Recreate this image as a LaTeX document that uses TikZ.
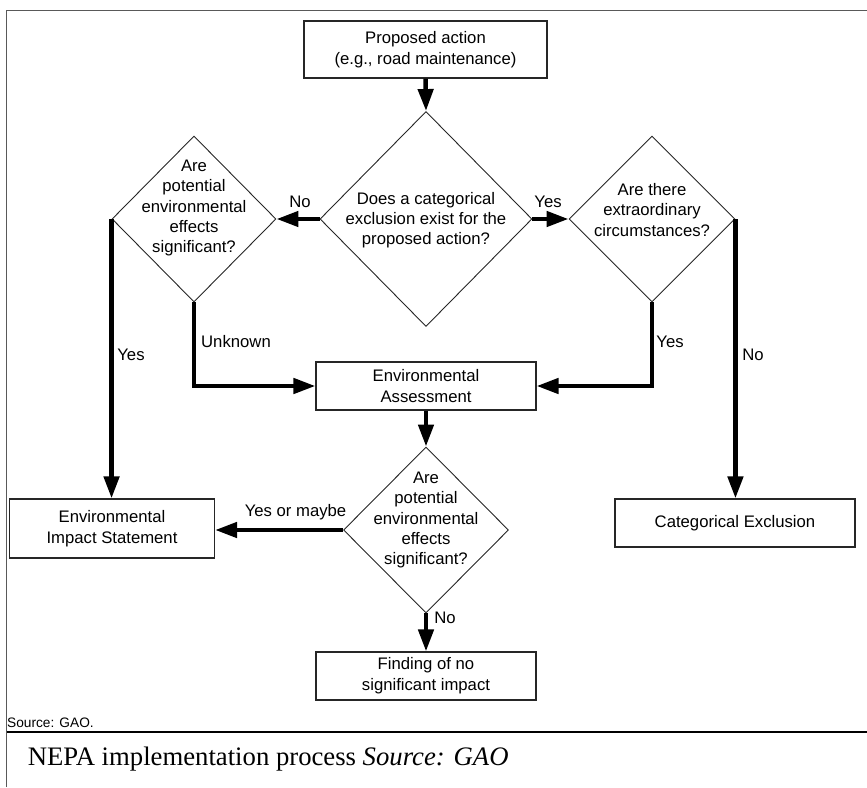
\documentclass[tikz,border=0pt]{standalone}
\usepackage{fontspec}
\setmainfont{Liberation Sans}
\newfontfamily\capfont{Liberation Serif}
\usetikzlibrary{arrows.meta,shapes.geometric}
\begin{document}
\begin{tikzpicture}[x=1pt,y=-1pt,
  box/.style={draw=black!85,line width=1.1pt,rectangle,inner sep=0pt,align=center,
    font=\fontsize{16.7}{21}\selectfont},
  dia/.style={draw=black!85,line width=0.9pt,diamond,inner sep=0pt,aspect=1},
  dtext/.style={align=center,inner sep=0pt,font=\fontsize{16.7}{20.3}\selectfont},
  lbl/.style={inner sep=0pt,font=\fontsize{16.7}{20}\selectfont},
  flow/.style={line width=4.5pt,-{Triangle[length=22pt,width=15pt]}},
  plain/.style={line width=4.5pt}]
\useasboundingbox (0,0) rectangle (867,787);
% frame
\draw[black!65,line width=1.5pt] (6.5,787) -- (6.5,10.7) -- (867,10.7);
\draw[black,line width=1.8pt] (6.5,731.7) -- (867,731.7);
\node[anchor=west,inner sep=0pt,font=\fontsize{13.7}{16}\selectfont] (src) at (7,723) {Source: GAO.};
\node[anchor=west,inner sep=0pt,font=\capfont\fontsize{26.7}{30}\selectfont] (cap) at (27.6,759) {NEPA implementation process \textit{Source: GAO}};
% boxes
\node[box,minimum width=243pt,minimum height=57pt] (pa) at (425.5,49.5) {Proposed action\\(e.g., road maintenance)};
\node[box,minimum width=220pt,minimum height=48pt] (ea) at (426,386) {Environmental\\Assessment};
\node[box,minimum width=205pt,minimum height=59pt] (eis) at (112,528.5) {Environmental\\Impact Statement};
\node[box,minimum width=240pt,minimum height=48pt] (ce) at (735,523) {Categorical Exclusion};
\node[box,minimum width=220pt,minimum height=48pt] (fonsi) at (426,676) {Finding of no\\significant impact};
% diamonds
\node[dia,minimum width=212pt,minimum height=215pt] (d1) at (426,219) {};
\node[dtext] (t1) at (426,220) {Does a categorical\\exclusion exist for the\\proposed action?};
\node[dia,minimum width=164pt,minimum height=166pt] (d2) at (194,219) {};
\node[dtext] (t2) at (194,208) {Are\\potential\\environmental\\effects\\significant?};
\node[dia,minimum width=166pt,minimum height=166pt] (d3) at (652,219) {};
\node[dtext] (t3) at (652,210) {Are there\\extraordinary\\circumstances?};
\node[dia,minimum width=165pt,minimum height=166pt] (d4) at (426,530) {};
\node[dtext] (t4) at (426,520) {Are\\potential\\environmental\\effects\\significant?};
% connectors
\coordinate (c1) at (194,386);
\coordinate (c2) at (652,386);
\draw[flow] (pa.south) -- (d1.north);
\draw[flow] (d1.west) -- (d2.east);
\draw[flow] (d1.east) -- (d3.west);
\draw[flow] (d2.west) -- (d2.west |- eis.north);
\draw[flow] (d2.south) -- (c1) -- (ea.west);
\draw[flow] (d3.south) -- (c2) -- (ea.east);
\draw[flow] (d3.east) -- (d3.east |- ce.north);
\draw[flow] (ea.south) -- (d4.north);
\draw[flow] (d4.west) -- (d4.west -| eis.east);
\draw[flow] (d4.south) -- (fonsi.north);
% labels
\node[lbl] (lno1) at (300,202) {No};
\node[lbl] (lyes1) at (548,202) {Yes};
\node[lbl] (lyes2) at (131,355) {Yes};
\node[lbl] (lunk) at (236,342) {Unknown};
\node[lbl] (lyes3) at (670,342) {Yes};
\node[lbl] (lno2) at (753,355) {No};
\node[lbl] (lyom) at (295.5,512) {Yes or maybe};
\node[lbl] (lno3) at (445,618) {No};
\end{tikzpicture}
\end{document}
